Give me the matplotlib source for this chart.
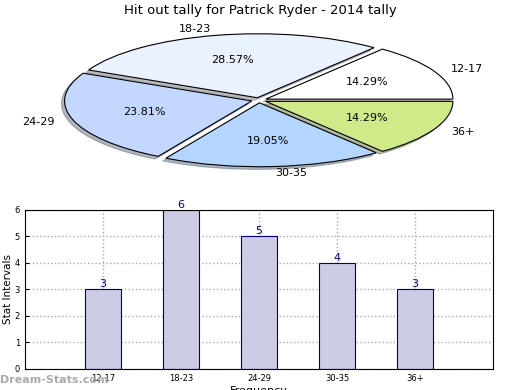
import matplotlib
matplotlib.use('Agg')
import matplotlib.pyplot as plt

intervals = ['12-17', '18-23', '24-29', '30-35', '36+']
counts = [3, 6, 5, 4, 3]
pie_colors = ['#ffffff', '#eaf1ff', '#c4d8ff', '#b3d5ff', '#d0ea8a']

fig = plt.figure(figsize=(5.2, 3.9), dpi=100)

# pie on top, stretched into an ellipse
ax1 = fig.add_axes([0.048, 0.538, 0.9, 0.41])
ax1.pie(counts, labels=intervals, colors=pie_colors, autopct='%1.2f%%',
        explode=[0.04] * len(counts),
        shadow={'ox': -0.012, 'oy': -0.03, 'shade': 0.5}, startangle=0,
        wedgeprops=dict(edgecolor='black', linewidth=0.8),
        textprops=dict(fontsize=8))
ax1.set_aspect('auto')
fig.text(0.5, 0.973, 'Hit out tally for Patrick Ryder - 2014 tally',
         ha='center', va='center', fontsize=9.5)

# bars below
ax2 = fig.add_axes([0.048, 0.054, 0.9, 0.408])
x = list(range(len(intervals)))
ax2.bar(x, counts, width=0.46, color='#ccccе4'.replace('е', 'e'), edgecolor='#000080', linewidth=0.8, zorder=2)
for xi, c in zip(x, counts):
    ax2.text(xi, c, str(c), ha='center', va='bottom', color='#000080', fontsize=8)
ax2.set_xlim(-1, 5)
ax2.set_ylim(0, 6)
ax2.set_xticks(x)
ax2.set_xticklabels(intervals)
ax2.tick_params(labelsize=6, direction='in', length=3)
ax2.grid(True, linestyle=':', color='#aaaaaa', linewidth=1, zorder=0)
ax2.set_ylabel('Stat Intervals', fontsize=7.5, labelpad=1)
ax2.set_xlabel('Frequency', fontsize=8, labelpad=2)

fig.text(0.0, 0.025, 'Dream-Stats.com', color='#aaaaaa', fontsize=8, fontweight='bold',
         ha='left', va='center')

fig.savefig('out.png', dpi=100)
